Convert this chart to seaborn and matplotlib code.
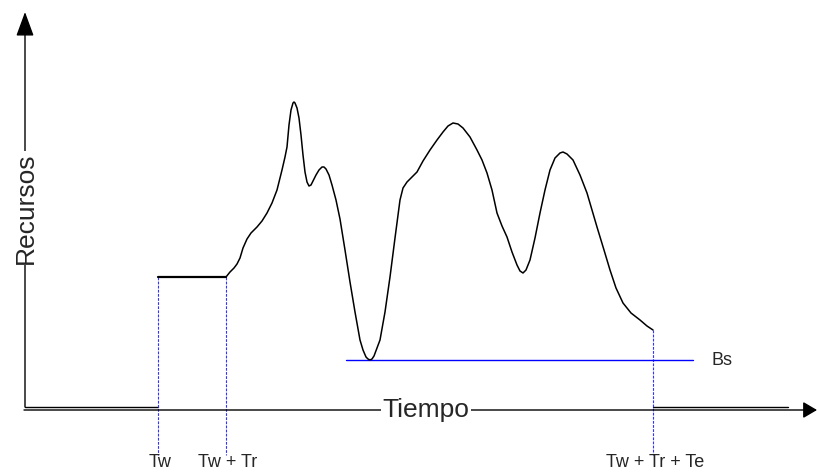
import matplotlib
matplotlib.use("Agg")
import matplotlib.pyplot as plt
import seaborn as sns
import pandas as pd

# time marks on the horizontal axis
tick_labels = ["Tw", "Tw + Tr", "Tw + Tr + Te"]
tick_times = [133, 201, 628]

# resources level before the curve starts and the base level Bs
flat_level = 133
bs_level = 50
bs_start, bs_end = 321, 668

# resource curve (time, resources)
curve_t = [201, 205, 209, 212, 215, 218, 222, 226, 232, 237, 242, 247, 252, 257, 260,
           262, 264, 266, 268, 269, 270, 272, 274, 276, 278, 280, 282, 284, 286, 288,
           291, 294, 297, 299, 301, 304, 307, 311, 315, 320, 325, 330, 335, 338, 341,
           343, 345, 347, 349, 352, 355, 360, 365, 370, 375, 378, 382, 387, 392, 398,
           405, 412, 418, 423, 428, 433, 438, 445, 452, 457, 462, 467, 472, 477, 482,
           487, 492, 495, 498, 501, 505, 510, 515, 520, 525, 530, 535, 538, 542, 548,
           555, 562, 572, 579, 585, 591, 598, 606, 615, 622, 628]
curve_r = [133, 138, 142, 146, 152, 162, 171, 177, 183, 189, 197, 207, 220, 240, 253,
           263, 285, 300, 307, 308, 307, 302, 292, 275, 255, 238, 228, 224, 225, 229,
           235, 240, 243, 243, 241, 235, 225, 210, 191, 160, 128, 98, 70, 60, 53,
           51, 50, 51, 54, 62, 70, 98, 133, 172, 210, 222, 228, 233, 238, 249,
           260, 270, 278, 284, 287, 286, 282, 273, 260, 250, 237, 220, 197, 184, 173,
           158, 145, 139, 137, 140, 150, 172, 197, 220, 240, 252, 257, 258, 256, 250,
           235, 217, 183, 160, 140, 122, 107, 97, 90, 84, 80]

curve = pd.DataFrame({"t": curve_t, "r": curve_r})
flat = pd.DataFrame({"t": tick_times[:2], "r": [flat_level, flat_level]})
base = pd.DataFrame({"t": [bs_start, bs_end], "r": [bs_level, bs_level]})

sns.set_style("white")
plt.rcParams["font.family"] = ["Liberation Sans", "DejaVu Sans"]

fig = plt.figure(figsize=(8.17, 4.72), dpi=100)
ax = fig.add_axes([0, 0, 1, 1])
ax.set_xlim(-25, 792)
ax.set_ylim(-62, 410)
ax.axis("off")

# axes with arrows
ax.annotate("", xy=(0, 398), xytext=(0, 3),
            arrowprops=dict(arrowstyle="-|>,head_length=1.5,head_width=0.55",
                            mutation_scale=10, lw=1, color="black",
                            shrinkA=0, shrinkB=0))
ax.annotate("", xy=(792, 0), xytext=(-1, 0),
            arrowprops=dict(arrowstyle="-|>,head_length=0.85,head_width=0.5",
                            mutation_scale=10, lw=1, color="black",
                            shrinkA=0, shrinkB=0))
# second line of the double baseline
ax.plot([0, tick_times[0]], [3, 3], color="black", lw=1)
ax.plot([tick_times[2], 763], [3, 3], color="black", lw=1)

# dashed guides for the time marks
for i, t in enumerate(tick_times):
    top = flat_level if i < 2 else curve_r[-1]
    ax.plot([t, t], [top, -45], color="#3333ff", lw=0.8, linestyle=(0, (2.5, 1.2)))
    ax.text(t + 2, -57, tick_labels[i], ha="center", va="baseline", fontsize=13)

# Bs line
sns.lineplot(data=base, x="t", y="r", color="#0000ff", lw=1, ax=ax)
ax.text(687, 45, "Bs", ha="left", va="baseline", fontsize=13)

# flat part and resource curve
sns.lineplot(data=flat, x="t", y="r", color="black", lw=1.6, ax=ax)
sns.lineplot(data=curve, x="t", y="r", color="black", lw=1.1, sort=False,
             estimator=None, ax=ax)
ax.lines[-1].set_solid_joinstyle("round")

ax.axis("off")

# axis titles sitting on the axis lines
box = dict(facecolor="white", edgecolor="none", pad=1)
ax.text(401, -7, "Tiempo", ha="center", va="baseline", fontsize=19, bbox=box)
ax.text(8, 202, "Recursos", rotation=90, rotation_mode="anchor",
        ha="center", va="baseline", fontsize=19, bbox=box)

plt.savefig("out.png", dpi=100)
